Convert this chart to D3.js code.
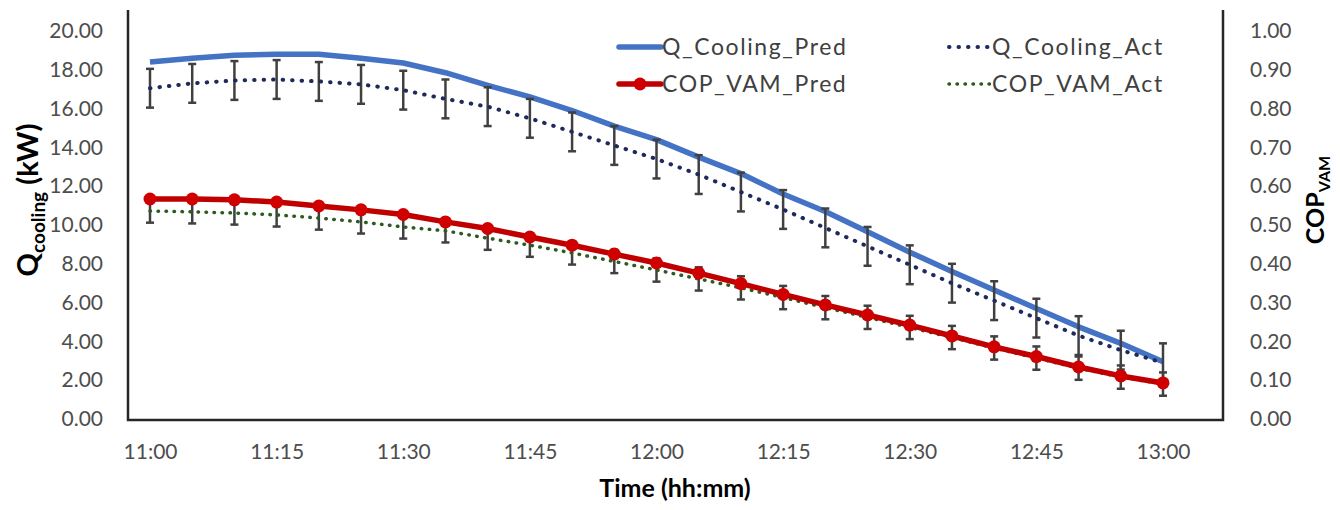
<!DOCTYPE html>
<html>
<head>
<meta charset="utf-8">
<script src="https://cdn.jsdelivr.net/npm/d3@7"></script>
<style>
	body { margin: 0; background: #fff; }
	svg { display: block; font-family: Lato, 'Open Sans', sans-serif; }
</style>
</head>
<body>
<svg id="chart" width="1340" height="510"></svg>
<script>
//Data---------------------------------------------------------------------
var times = ['11:00', '11:05', '11:10', '11:15', '11:20', '11:25', '11:30', '11:35',
	'11:40', '11:45', '11:50', '11:55', '12:00', '12:05', '12:10', '12:15', '12:20',
	'12:25', '12:30', '12:35', '12:40', '12:45', '12:50', '12:55', '13:00'];
var xTickLabels = ['11:00', '11:15', '11:30', '11:45', '12:00', '12:15', '12:30', '12:45', '13:00'];
var qPred = [18.4, 18.6, 18.75, 18.8, 18.8, 18.6, 18.35, 17.85, 17.2, 16.6, 15.9, 15.1,
	14.4, 13.5, 12.65, 11.6, 10.7, 9.65, 8.6, 7.6, 6.65, 5.7, 4.75, 3.9, 2.95];
var qAct = [17.05, 17.3, 17.45, 17.5, 17.4, 17.25, 16.95, 16.5, 16.1, 15.5, 14.8, 14.1,
	13.4, 12.6, 11.7, 10.8, 9.85, 8.9, 7.95, 7.0, 6.1, 5.2, 4.3, 3.55, 2.9];
var copPred = [0.567, 0.567, 0.565, 0.559, 0.549, 0.539, 0.527, 0.508, 0.491, 0.469, 0.448,
	0.425, 0.402, 0.376, 0.349, 0.321, 0.294, 0.268, 0.242, 0.214, 0.186, 0.161, 0.134,
	0.111, 0.093];
var copAct = [0.536, 0.534, 0.531, 0.526, 0.518, 0.508, 0.495, 0.485, 0.466, 0.448, 0.428,
	0.406, 0.384, 0.361, 0.338, 0.313, 0.287, 0.262, 0.236, 0.21, 0.183, 0.157, 0.131,
	0.108, 0.09];
var qTicks = [0, 2, 4, 6, 8, 10, 12, 14, 16, 18, 20];
var copTicks = [0, 0.1, 0.2, 0.3, 0.4, 0.5, 0.6, 0.7, 0.8, 0.9, 1.0];
var qErr = 1.0;     //fixed error amount (kW)
var copErr = 0.03;  //fixed error amount

//Layout-------------------------------------------------------------------
var svg = d3.select('#chart');
var frame = { left: 128, right: 1223, top: 10, bottom: 420 };

var x = d3.scaleLinear().domain([0, times.length - 1]).range([150, 1163]);
var yL = d3.scaleLinear().domain([0, 20]).range([419, 31]);
var yR = d3.scaleLinear().domain([0, 1]).range([419, 31]);

var idx = d3.range(times.length);

//Axes---------------------------------------------------------------------
var tickStyle = function (g) {
	g.select('.domain').remove();
	g.selectAll('.tick line').remove();
	g.selectAll('.tick text')
		.style('font-size', '21px')
		.style('fill', '#4d4d4d')
		.style('font-family', 'Lato, sans-serif');
};

svg.append('g')
	.attr('transform', 'translate(' + frame.left + ',0)')
	.call(d3.axisLeft(yL).tickValues(qTicks).tickFormat(d3.format('.2f'))
		.tickSize(0).tickPadding(25))
	.call(tickStyle);

svg.append('g')
	.attr('transform', 'translate(' + frame.right + ',0)')
	.call(d3.axisRight(yR).tickValues(copTicks).tickFormat(d3.format('.2f'))
		.tickSize(0).tickPadding(27))
	.call(tickStyle);

svg.append('g')
	.attr('transform', 'translate(0,' + frame.bottom + ')')
	.call(d3.axisBottom(x)
		.tickValues(idx.filter(function (i) { return xTickLabels.indexOf(times[i]) >= 0; }))
		.tickFormat(function (i) { return times[i]; })
		.tickSize(0).tickPadding(24))
	.call(tickStyle);

//frame lines (left, bottom, right)
svg.append('path')
	.attr('d', 'M' + frame.left + ',' + frame.top + 'V' + frame.bottom +
		'H' + frame.right + 'V' + frame.top)
	.attr('fill', 'none')
	.attr('stroke', '#262626')
	.attr('stroke-width', 2.5);

//Titles-------------------------------------------------------------------
svg.append('text')
	.attr('x', 675)
	.attr('y', 497)
	.attr('text-anchor', 'middle')
	.style('font-size', '25px')
	.style('font-weight', 'bold')
	.style('fill', '#000')
	.text('Time (hh:mm)');

var ltitle = svg.append('text')
	.attr('transform', 'translate(38,200) rotate(-90)')
	.attr('text-anchor', 'middle')
	.style('font-size', '29px')
	.style('font-weight', 'bold')
	.style('fill', '#000');
ltitle.append('tspan').text('Q');
ltitle.append('tspan').attr('dy', 7).style('font-size', '19px').text('cooling');
ltitle.append('tspan').attr('dy', -7).text(' (kW)');

var rtitle = svg.append('text')
	.attr('transform', 'translate(1324,200) rotate(-90)')
	.attr('text-anchor', 'middle')
	.style('font-size', '25px')
	.style('font-weight', 'bold')
	.style('fill', '#000');
rtitle.append('tspan').text('COP');
rtitle.append('tspan').attr('dy', 6).style('font-size', '16px').text('VAM');

//Series-------------------------------------------------------------------
var lineL = function (vals) {
	return d3.line().x(function (i) { return x(i); }).y(function (i) { return yL(vals[i]); });
};
var lineR = function (vals) {
	return d3.line().x(function (i) { return x(i); }).y(function (i) { return yR(vals[i]); });
};

//error bars with caps
function errorBars(vals, err, scale) {
	var g = svg.append('g').attr('stroke', '#404040').attr('stroke-width', 2.5);
	g.selectAll('line.bar').data(idx).enter().append('line')
		.attr('x1', function (i) { return x(i); })
		.attr('x2', function (i) { return x(i); })
		.attr('y1', function (i) { return scale(vals[i] + err); })
		.attr('y2', function (i) { return scale(vals[i] - err); });
	[1, -1].forEach(function (s) {
		g.selectAll(null).data(idx).enter().append('line')
			.attr('x1', function (i) { return x(i) - 4; })
			.attr('x2', function (i) { return x(i) + 4; })
			.attr('y1', function (i) { return scale(vals[i] + s * err); })
			.attr('y2', function (i) { return scale(vals[i] + s * err); });
	});
}

svg.append('path')
	.attr('d', lineL(qPred)(idx))
	.attr('fill', 'none')
	.attr('stroke', '#4472C4')
	.attr('stroke-width', 5.5)
	.attr('stroke-linejoin', 'round');

errorBars(qAct, qErr, yL);

svg.append('path')
	.attr('d', lineL(qAct)(idx))
	.attr('fill', 'none')
	.attr('stroke', '#1F2A5C')
	.attr('stroke-width', 4)
	.attr('stroke-linecap', 'round')
	.attr('stroke-dasharray', '0.5 9');

errorBars(copAct, copErr, yR);

svg.append('path')
	.attr('d', lineR(copAct)(idx))
	.attr('fill', 'none')
	.attr('stroke', '#2E5A1F')
	.attr('stroke-width', 3.5)
	.attr('stroke-linecap', 'round')
	.attr('stroke-dasharray', '0.5 7.5');

svg.append('path')
	.attr('d', lineR(copPred)(idx))
	.attr('fill', 'none')
	.attr('stroke', '#C00000')
	.attr('stroke-width', 5.5)
	.attr('stroke-linejoin', 'round');

svg.append('g').selectAll('circle')
	.data(idx)
	.enter()
	.append('circle')
	.attr('cx', function (i) { return x(i); })
	.attr('cy', function (i) { return yR(copPred[i]); })
	.attr('r', 6.5)
	.attr('fill', '#D00000');

//Legend-------------------------------------------------------------------
var legend = [
	{ name: 'Q_Cooling_Pred', col: 0, row: 0, color: '#4472C4', w: 5.5, dash: null, marker: false },
	{ name: 'Q_Cooling_Act', col: 1, row: 0, color: '#1F2A5C', w: 4, dash: '0.5 9', marker: false },
	{ name: 'COP_VAM_Pred', col: 0, row: 1, color: '#C00000', w: 5.5, dash: null, marker: true },
	{ name: 'COP_VAM_Act', col: 1, row: 1, color: '#2E5A1F', w: 3.5, dash: '0.5 7.5', marker: false }
];
var legX = [617, 947], legY = [47, 84];

var items = svg.append('g').selectAll('g')
	.data(legend)
	.enter()
	.append('g')
	.attr('transform', function (d) {
		return 'translate(' + legX[d.col] + ',' + legY[d.row] + ')';
	});

items.append('line')
	.attr('x1', 2).attr('x2', 44)
	.attr('stroke', function (d) { return d.color; })
	.attr('stroke-width', function (d) { return d.w; })
	.attr('stroke-linecap', 'round')
	.attr('stroke-dasharray', function (d) { return d.dash; });

items.filter(function (d) { return d.marker; })
	.append('circle')
	.attr('cx', 23).attr('r', 6.5)
	.attr('fill', '#D00000');

items.append('text')
	.attr('x', 45)
	.attr('dy', '0.35em')
	.style('font-size', '23px')
	.style('letter-spacing', '1.6px')
	.style('fill', '#404040')
	.text(function (d) { return d.name; });
</script>
</body>
</html>
